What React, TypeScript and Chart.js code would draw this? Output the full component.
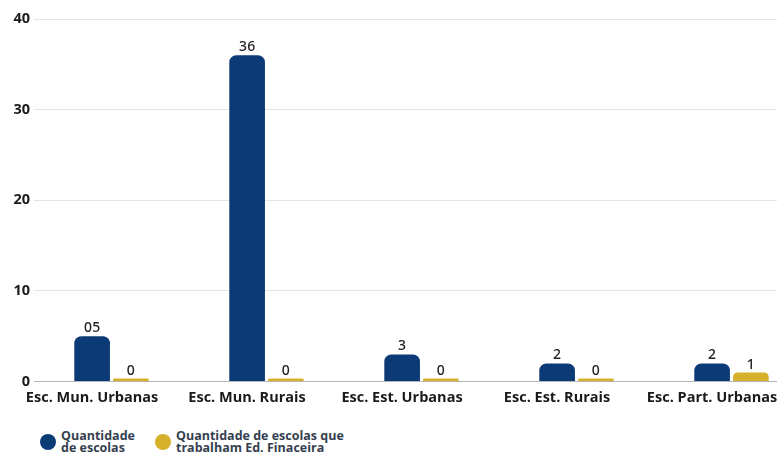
import React, { useEffect, useRef } from "react";
import { Chart, registerables } from "chart.js";

Chart.register(...registerables);

const categories = [
  "Esc. Mun. Urbanas",
  "Esc. Mun. Rurais",
  "Esc. Est. Urbanas",
  "Esc. Est. Rurais",
  "Esc. Part. Urbanas",
];
const totalSchools = [5, 36, 3, 2, 2];
const totalLabels = ["05", "36", "3", "2", "2"];
const finEdSchools = [0, 0, 0, 0, 1];
const finEdLabels = ["0", "0", "0", "0", "1"];
const yTicks = [0, 10, 20, 30, 40];
const seriesNames = [
  ["Quantidade", "de escolas"],
  ["Quantidade de escolas que", "trabalham Ed. Finaceira"],
];

const BLUE = "#0c3a76";
const YELLOW = "#d6b12c";

const valueLabelPlugin = {
  id: "valueLabels",
  afterDatasetsDraw(chart: any) {
    const ctx = chart.ctx;
    const labelSets = [totalLabels, finEdLabels];
    ctx.save();
    ctx.font = "500 14px 'Noto Sans'";
    ctx.fillStyle = "#222";
    ctx.textAlign = "center";
    ctx.textBaseline = "bottom";
    chart.data.datasets.forEach((_: any, di: number) => {
      const meta = chart.getDatasetMeta(di);
      meta.data.forEach((el: any, i: number) => {
        ctx.fillText(labelSets[di][i], el.x, el.y - 1);
      });
    });
    ctx.restore();
  },
};

export default function App() {
  const ref = useRef<HTMLCanvasElement | null>(null);

  useEffect(() => {
    document.body.style.margin = "0";
    const chart = new Chart(ref.current!, {
      type: "bar",
      data: {
        labels: categories,
        datasets: [
          {
            label: seriesNames[0].join(" "),
            data: totalSchools,
            backgroundColor: BLUE,
            borderRadius: 7,
            borderSkipped: "start",
            categoryPercentage: 0.5,
            barPercentage: 0.92,
          },
          {
            label: seriesNames[1].join(" "),
            data: finEdSchools,
            backgroundColor: YELLOW,
            borderRadius: 7,
            borderSkipped: "start",
            categoryPercentage: 0.5,
            barPercentage: 0.92,
            minBarLength: 3,
          },
        ],
      },
      options: {
        responsive: false,
        animation: false,
        layout: { padding: { top: 19, right: 0, left: 0, bottom: 0 } },
        plugins: {
          legend: { display: false },
          tooltip: { enabled: false },
        },
        scales: {
          x: {
            grid: { display: false },
            border: { display: false },
            ticks: {
              color: "#1a1a1a",
              font: { family: "'Open Sans'", size: 14.5, weight: "bold" },
              labelOffset: -19.5,
              padding: 0,
              maxRotation: 0,
              autoSkip: false,
            },
          },
          y: {
            min: 0,
            max: 40,
            afterFit(scale: any) {
              scale.width = 34;
            },
            afterBuildTicks(scale: any) {
              scale.ticks = yTicks.map((v) => ({ value: v }));
            },
            grid: {
              color: (c: any) => (c.tick && c.tick.value === 0 ? "#b5b5b5" : "#e4e4e4"),
              drawTicks: false,
            },
            border: { display: false },
            ticks: {
              color: "#1a1a1a",
              font: { family: "'Open Sans'", size: 14.5, weight: "bold" },
              padding: 4,
            },
          },
        },
      },
      plugins: [valueLabelPlugin],
    });
    return () => chart.destroy();
  }, []);

  const dotColors = [BLUE, YELLOW];
  const legendX = [40, 155];

  return (
    <div style={{ position: "relative", width: 777, height: 457, overflow: "hidden", background: "#fff" }}>
      <canvas ref={ref} width={809} height={407} style={{ display: "block" }} />
      {seriesNames.map((lines, i) => (
        <div
          key={i}
          style={{
            position: "absolute",
            left: legendX[i],
            top: 430,
            display: "flex",
            alignItems: "center",
            fontFamily: "'Open Sans'",
            fontWeight: 700,
            fontSize: 12.5,
            lineHeight: "11.5px",
            color: "#34404f",
          }}
        >
          <span
            style={{
              display: "inline-block",
              width: 16,
              height: 16,
              borderRadius: "50%",
              background: dotColors[i],
              marginRight: 5,
            }}
          />
          <span>
            {lines[0]}
            <br />
            {lines[1]}
          </span>
        </div>
      ))}
    </div>
  );
}
